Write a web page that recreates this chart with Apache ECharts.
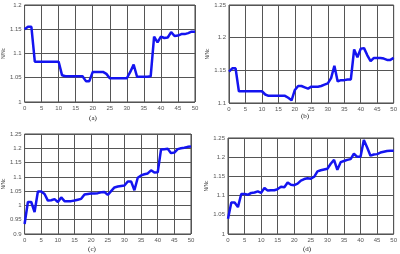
<!DOCTYPE html>
<html>
<head>
<meta charset="utf-8">
<script src="https://cdn.jsdelivr.net/npm/echarts@6/dist/echarts.min.js"></script>
<style>
html, body { margin: 0; padding: 0; background: #fff; }
#chart { width: 400px; height: 254px; }
</style>
</head>
<body>
<div id="chart"></div>
<script>
// x positions 0..50
const steps = Array.from({ length: 51 }, (_, i) => i)

const seriesA = [1.150, 1.155, 1.155, 1.083, 1.083, 1.083, 1.083, 1.083, 1.083, 1.083, 1.083,
  1.055, 1.053, 1.053, 1.053, 1.053, 1.053, 1.053, 1.043, 1.043, 1.062,
  1.062, 1.062, 1.062, 1.058, 1.049, 1.049, 1.049, 1.049, 1.049, 1.049,
  1.062, 1.077, 1.052, 1.052, 1.052, 1.052, 1.053, 1.135, 1.123, 1.135,
  1.132, 1.133, 1.144, 1.136, 1.137, 1.140, 1.140, 1.142, 1.145, 1.145]

const seriesB = [1.148, 1.153, 1.153, 1.118, 1.118, 1.118, 1.118, 1.118, 1.118, 1.118, 1.118,
  1.113, 1.111, 1.111, 1.111, 1.111, 1.111, 1.111, 1.108, 1.104, 1.120,
  1.126, 1.126, 1.124, 1.122, 1.125, 1.125, 1.125, 1.126, 1.128, 1.130,
  1.138, 1.157, 1.133, 1.135, 1.135, 1.136, 1.136, 1.182, 1.170, 1.183,
  1.184, 1.173, 1.164, 1.169, 1.169, 1.169, 1.168, 1.166, 1.166, 1.169]

const seriesC = [0.935, 1.012, 1.012, 0.977, 1.049, 1.049, 1.040, 1.017, 1.018, 1.022, 1.012,
  1.028, 1.015, 1.015, 1.015, 1.017, 1.020, 1.023, 1.038, 1.040, 1.042,
  1.042, 1.043, 1.046, 1.047, 1.037, 1.050, 1.063, 1.066, 1.068, 1.070,
  1.084, 1.084, 1.053, 1.097, 1.105, 1.109, 1.112, 1.123, 1.115, 1.116,
  1.196, 1.197, 1.198, 1.183, 1.185, 1.197, 1.200, 1.202, 1.205, 1.206]

const seriesD = [1.040, 1.082, 1.082, 1.070, 1.104, 1.104, 1.102, 1.107, 1.108, 1.111, 1.107,
  1.120, 1.113, 1.114, 1.114, 1.117, 1.123, 1.122, 1.134, 1.128, 1.127,
  1.131, 1.139, 1.143, 1.145, 1.144, 1.149, 1.163, 1.166, 1.168, 1.170,
  1.183, 1.193, 1.167, 1.187, 1.190, 1.193, 1.195, 1.209, 1.201, 1.201,
  1.245, 1.225, 1.204, 1.207, 1.208, 1.212, 1.214, 1.216, 1.217, 1.217]

const captions = ['(a)', '(b)', '(c)', '(d)']
const yRanges = [[1, 1.2], [1.1, 1.25], [0.9, 1.25], [1, 1.25]]
const allSeries = [seriesA, seriesB, seriesC, seriesD]

const grids = [
  { left: 20, top: 5, width: 175, height: 97 },
  { left: 229, top: 5, width: 167, height: 98 },
  { left: 18, top: 134, width: 173, height: 100 },
  { left: 228, top: 138, width: 169, height: 96 }
]
const captionPos = [[93, 115], [305, 113], [92, 246], [307, 246]]

const labelStyle = { fontSize: 6, color: '#555', fontFamily: 'Liberation Sans' }
const splitStyle = { show: true, lineStyle: { color: '#555', width: 1 } }

const chart = echarts.init(document.getElementById('chart'), null, { renderer: 'canvas' })
const option = {
  animation: false,
  backgroundColor: '#fff',
  title: captions.map((c, i) => ({
    text: c,
    left: captionPos[i][0],
    top: captionPos[i][1],
    padding: 0,
    textAlign: 'center',
    textStyle: { fontSize: 7, fontWeight: 'normal', color: '#222', fontFamily: 'Liberation Serif' }
  })),
  grid: grids.map(g => Object.assign({ show: true, borderColor: '#444', borderWidth: 1, backgroundColor: '#fff' }, g)),
  xAxis: grids.map((g, i) => ({
    gridIndex: i,
    type: 'value',
    min: 0,
    max: 50,
    interval: 5,
    axisLine: { show: false },
    axisTick: { show: false },
    axisLabel: Object.assign({ margin: 3 }, labelStyle),
    splitLine: splitStyle
  })),
  yAxis: grids.map((g, i) => ({
    gridIndex: i,
    type: 'value',
    min: yRanges[i][0],
    max: yRanges[i][1],
    interval: 0.05,
    name: 'N/Nc',
    nameLocation: 'middle',
    nameRotate: 90,
    nameGap: i === 1 ? 12 : 14,
    nameTextStyle: { fontSize: 5, color: '#444', fontFamily: 'Liberation Sans' },
    axisLine: { show: false },
    axisTick: { show: false },
    axisLabel: Object.assign({ margin: 3 }, labelStyle),
    splitLine: splitStyle
  })),
  series: allSeries.map((vals, i) => ({
    type: 'line',
    xAxisIndex: i,
    yAxisIndex: i,
    data: steps.map((x, k) => [x, vals[k]]),
    showSymbol: false,
    lineStyle: { color: '#1414f0', width: 2.5 },
    z: 5
  }))
}
chart.setOption(option)
</script>
</body>
</html>
